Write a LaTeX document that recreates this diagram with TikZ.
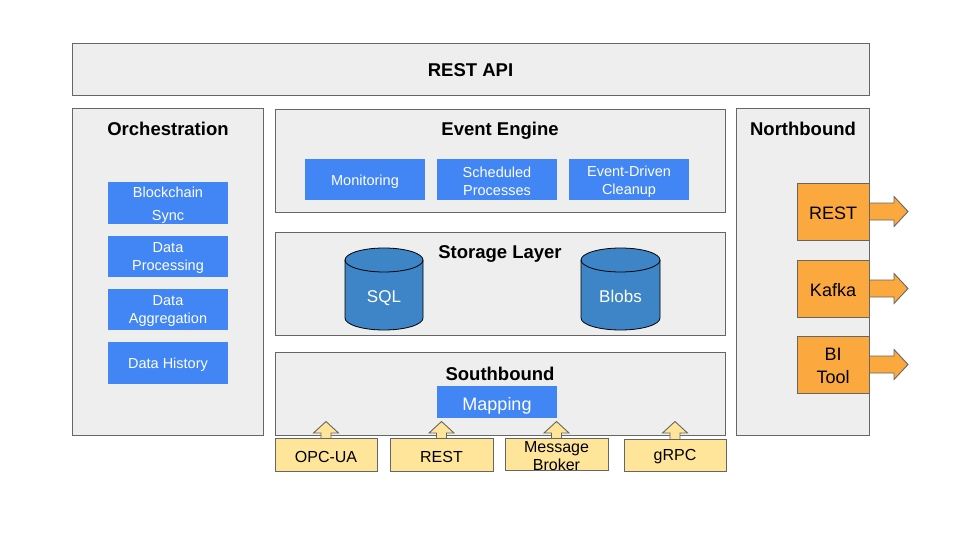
\documentclass[tikz,border=0pt]{standalone}
\usepackage{fontspec}
\setmainfont{Liberation Sans}
\usetikzlibrary{fit}
\definecolor{panelgray}{HTML}{EEEEEE}
\definecolor{edgegray}{HTML}{666666}
\definecolor{gblue}{HTML}{4285F4}
\definecolor{cylblue}{HTML}{3D85C6}
\definecolor{lyellow}{HTML}{FFE599}
\definecolor{orangebox}{HTML}{FBA93F}
\tikzset{
  panel/.style={draw=edgegray, fill=panelgray, line width=0.9pt, inner sep=0pt},
  title/.style={font=\bfseries\fontsize{18.5}{21}\selectfont, text=black, yshift=-1pt},
  bluebox/.style={fill=gblue, inner sep=0pt},
  bluetext/.style={text=white, align=center, font=\fontsize{14.5}{18}\selectfont, yshift=-2pt},
  yelbox/.style={draw=edgegray, fill=lyellow, line width=0.9pt, inner sep=0pt},
  yeltext/.style={align=center, font=\fontsize{16}{18}\selectfont, yshift=-2pt},
  orbox/.style={draw=edgegray, fill=orangebox, line width=0.9pt, inner sep=0pt},
  ortext/.style={align=center, font=\fontsize{18}{23}\selectfont, yshift=-1.5pt},
  blockarrow/.style={draw=edgegray, line width=0.9pt},
  cyl/.style={draw=black, fill=cylblue, line width=0.8pt},
}
\begin{document}
\begin{tikzpicture}[x=1pt, y=-1pt]
\useasboundingbox (0,0) rectangle (960,540);
% panels
\node[panel, fit={(72,43)(869,95)}] (api) {};
\node[title] at (api.center) {REST API};
\node[panel, fit={(72,108)(263,435)}] (orch) {};
\node[title] at (168,128) {Orchestration};
\node[panel, fit={(275,109)(725,212)}] (event) {};
\node[title] at (500,130) {Event Engine};
\node[panel, fit={(275,232)(725,335)}] (storage) {};
\node[title] at (500,253) {Storage Layer};
\node[panel, fit={(275,352)(725,435)}] (south) {};
\node[title] at (500,373) {Southbound};
\node[panel, fit={(736,108)(869,435)}] (north) {};
\node[title] at (803,128) {Northbound};

% orchestration boxes
\node[bluebox, fit={(108,182)(228,224)}] (bc) {};
\node[bluetext, font=\fontsize{14.5}{23}\selectfont] at (bc.center) {Blockchain\\Sync};
\node[bluebox, fit={(108,236)(228,277)}] (dp) {};
\node[bluetext] at (dp.center) {Data\\Processing};
\node[bluebox, fit={(108,289)(228,330)}] (da) {};
\node[bluetext] at (da.center) {Data\\Aggregation};
\node[bluebox, fit={(108,342)(228,384)}] (dh) {};
\node[bluetext] at (dh.center) {Data History};

% event engine boxes
\node[bluebox, fit={(305,159)(425,200)}] (mon) {};
\node[bluetext] at (mon.center) {Monitoring};
\node[bluebox, fit={(437,159)(557,200)}] (sched) {};
\node[bluetext] at (sched.center) {Scheduled\\Processes};
\node[bluebox, fit={(569,159)(689,200)}] (edc) {};
\node[bluetext] at (edc.center) {Event-Driven\\Cleanup};

% cylinders
\draw[cyl] (345,260) -- (345,318) arc[start angle=180, end angle=360, x radius=39pt, y radius=12pt] -- (423,260) arc[start angle=0, end angle=180, x radius=39pt, y radius=12pt] -- cycle;
\draw[cyl, fill=none] (345,260) arc[start angle=180, end angle=360, x radius=39pt, y radius=12pt];
\node[text=white, font=\fontsize{17}{20}\selectfont] (sql) at (384,298) {SQL};
\draw[cyl] (581,260) -- (581,318) arc[start angle=180, end angle=360, x radius=39.5pt, y radius=12pt] -- (660,260) arc[start angle=0, end angle=180, x radius=39.5pt, y radius=12pt] -- cycle;
\draw[cyl, fill=none] (581,260) arc[start angle=180, end angle=360, x radius=39.5pt, y radius=12pt];
\node[text=white, font=\fontsize{17}{20}\selectfont] (blobs) at (620.5,296) {Blobs};

% mapping
\node[bluebox, fit={(437,386)(557,418)}] (map) {};
\node[text=white, font=\fontsize{18}{21}\selectfont] at ([yshift=-4pt]map.center) {Mapping};

% up arrows (drawn before boxes)
\foreach \cx in {326,441.5,556.5,675} {
  \draw[blockarrow, fill=lyellow] (\cx-5,442) -- (\cx-5,433) -- (\cx-12.5,433) -- (\cx,421.5) -- (\cx+12.5,433) -- (\cx+5,433) -- (\cx+5,442) -- cycle;
}
\node[yelbox, fit={(275,438)(377,471)}] (opc) {};
\node[yeltext] at (opc.center) {OPC-UA};
\node[yelbox, fit={(390,438)(493,471)}] (rest) {};
\node[yeltext] at (rest.center) {REST};
\node[yelbox, fit={(505,438)(608,470)}] (mb) {};
\node[yeltext] at (mb.center) {Message\\Broker};
\node[yelbox, fit={(624,439)(726,471)}] (grpc) {};
\node[yeltext] at (grpc.center) {gRPC};

% right arrows
\foreach \cy in {211.5,288.5,364.5} {
  \draw[blockarrow, fill=orangebox] (860,\cy-8.5) -- (894,\cy-8.5) -- (894,\cy-15) -- (908,\cy) -- (894,\cy+15) -- (894,\cy+8.5) -- (860,\cy+8.5) -- cycle;
}
\node[orbox, fit={(797,183)(869,240)}] (nrest) {};
\node[ortext] at (nrest.center) {REST};
\node[orbox, fit={(797,260)(869,317)}] (kafka) {};
\node[ortext] at (kafka.center) {Kafka};
\node[orbox, fit={(797,336)(869,393)}] (bi) {};
\node[ortext] at (bi.center) {BI\\Tool};
\end{tikzpicture}
\end{document}
